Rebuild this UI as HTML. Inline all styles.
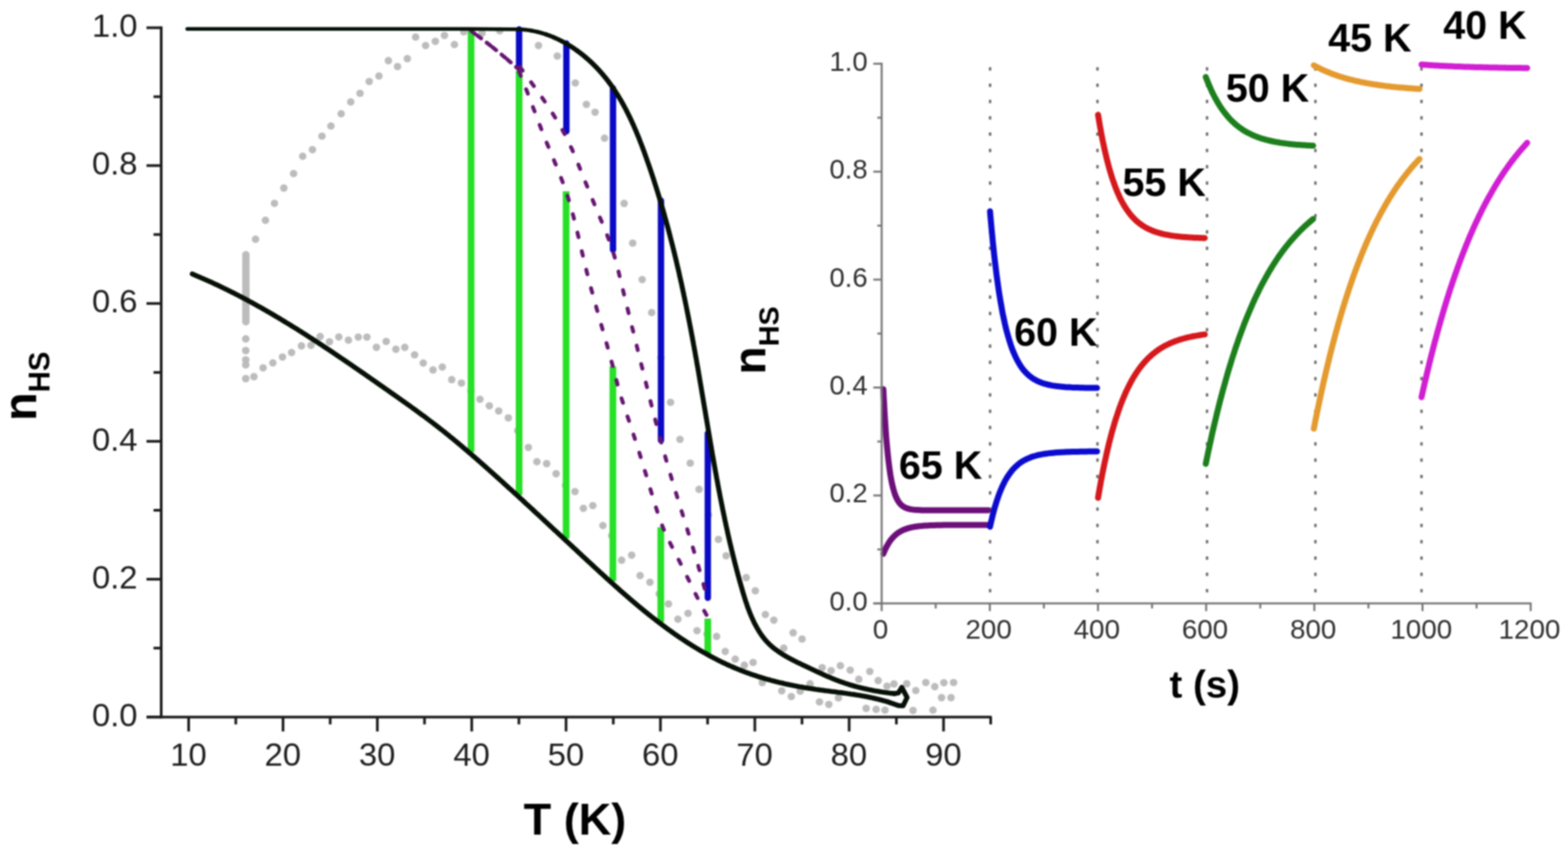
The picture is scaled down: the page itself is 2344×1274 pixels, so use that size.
<!DOCTYPE html><html><head><meta charset="utf-8"><title>n_HS vs T</title>
<style>html,body{margin:0;padding:0;background:#fff;}body{width:2344px;height:1274px;overflow:hidden;}svg{display:block;}#w{filter:blur(0.8px);width:2344px;height:1274px;}text{font-family:"Liberation Sans",Arial,sans-serif;}</style></head><body>
<div id="w"><svg width="2344" height="1274" viewBox="0 0 2344 1274">
<rect width="2344" height="1274" fill="#fff"/>
<g fill="#bcbcbc">
<circle cx="382" cy="357.7" r="5.6"/>
<circle cx="396.8" cy="329.4" r="5.6"/>
<circle cx="410.3" cy="304" r="5.6"/>
<circle cx="424.3" cy="281.2" r="5.6"/>
<circle cx="438.9" cy="259.5" r="5.6"/>
<circle cx="452.5" cy="233.6" r="5.6"/>
<circle cx="467.1" cy="223.8" r="5.6"/>
<circle cx="481.3" cy="203.5" r="5.6"/>
<circle cx="494.7" cy="188.4" r="5.6"/>
<circle cx="510" cy="170.1" r="5.6"/>
<circle cx="524.3" cy="152.4" r="5.6"/>
<circle cx="538.2" cy="139.5" r="5.6"/>
<circle cx="551.9" cy="121.8" r="5.6"/>
<circle cx="566.5" cy="113.6" r="5.6"/>
<circle cx="580.6" cy="90.7" r="5.6"/>
<circle cx="594.3" cy="99.5" r="5.6"/>
<circle cx="608.9" cy="87.7" r="5.6"/>
<circle cx="621.3" cy="55.4" r="5.6"/>
<circle cx="636.2" cy="68.1" r="5.6"/>
<circle cx="650.8" cy="61.8" r="5.6"/>
<circle cx="664.4" cy="53" r="5.6"/>
<circle cx="679.3" cy="66.6" r="5.6"/>
<circle cx="693.3" cy="47.5" r="5.6"/>
<circle cx="720.6" cy="49.6" r="5.6"/>
<circle cx="747" cy="46" r="5.6"/>
<circle cx="805" cy="68" r="5.6"/>
<circle cx="833.1" cy="83.8" r="5.6"/>
<circle cx="860" cy="124" r="5.6"/>
<circle cx="876.6" cy="156" r="5.6"/>
<circle cx="889.6" cy="167.8" r="5.6"/>
<circle cx="903.7" cy="206.6" r="5.6"/>
<circle cx="933" cy="304.2" r="5.6"/>
<circle cx="945.8" cy="363.5" r="5.6"/>
<circle cx="960" cy="418" r="5.6"/>
<circle cx="974.2" cy="467.4" r="5.6"/>
<circle cx="988" cy="535" r="5.6"/>
<circle cx="1002.4" cy="601.5" r="5.6"/>
<circle cx="1016.5" cy="657" r="5.6"/>
<circle cx="1031.8" cy="692.5" r="5.6"/>
<circle cx="1045" cy="731.7" r="5.6"/>
<circle cx="1059" cy="770" r="5.6"/>
<circle cx="1074" cy="806.5" r="5.6"/>
<circle cx="1085.5" cy="831" r="5.6"/>
<circle cx="1115.5" cy="863.7" r="5.6"/>
<circle cx="1129.1" cy="883.4" r="5.6"/>
<circle cx="1144.1" cy="918.9" r="5.6"/>
<circle cx="1156.8" cy="927.3" r="5.6"/>
<circle cx="1185.7" cy="946.2" r="5.6"/>
<circle cx="1199" cy="955.5" r="5.6"/>
<circle cx="1229" cy="998.3" r="5.6"/>
<circle cx="1242.4" cy="1002.8" r="5.6"/>
<circle cx="1256.3" cy="995.4" r="5.6"/>
<circle cx="1271" cy="1002" r="5.6"/>
<circle cx="1300.3" cy="1004" r="5.6"/>
<circle cx="1283.8" cy="1015.7" r="5.6"/>
<circle cx="1312.8" cy="1017.7" r="5.6"/>
<circle cx="1336.4" cy="1022.7" r="5.6"/>
<circle cx="1355.5" cy="1022.3" r="5.6"/>
<circle cx="1369" cy="1032.5" r="5.6"/>
<circle cx="1384" cy="1020.5" r="5.6"/>
<circle cx="1397.4" cy="1026.7" r="5.6"/>
<circle cx="1411" cy="1020.8" r="5.6"/>
<circle cx="1425.5" cy="1020.5" r="5.6"/>
<circle cx="1407.5" cy="1043.2" r="5.6"/>
<circle cx="1421.7" cy="1043.2" r="5.6"/>
<circle cx="379.6" cy="563.2" r="5.6"/>
<circle cx="393.3" cy="550" r="5.6"/>
<circle cx="407.9" cy="542.6" r="5.6"/>
<circle cx="422.3" cy="533.8" r="5.6"/>
<circle cx="435.9" cy="527.1" r="5.6"/>
<circle cx="450.6" cy="517.2" r="5.6"/>
<circle cx="464.9" cy="516.4" r="5.6"/>
<circle cx="478.6" cy="503.2" r="5.6"/>
<circle cx="492.5" cy="511" r="5.6"/>
<circle cx="506.5" cy="503.9" r="5.6"/>
<circle cx="520.9" cy="508.6" r="5.6"/>
<circle cx="535.6" cy="504" r="5.6"/>
<circle cx="548.5" cy="504" r="5.6"/>
<circle cx="562.7" cy="519.3" r="5.6"/>
<circle cx="577.3" cy="510.5" r="5.6"/>
<circle cx="591.8" cy="522.2" r="5.6"/>
<circle cx="605.1" cy="519.4" r="5.6"/>
<circle cx="619.8" cy="530.5" r="5.6"/>
<circle cx="632.7" cy="542.9" r="5.6"/>
<circle cx="647.3" cy="553.2" r="5.6"/>
<circle cx="661.2" cy="548.9" r="5.6"/>
<circle cx="675.3" cy="567.7" r="5.6"/>
<circle cx="689.8" cy="572.8" r="5.6"/>
<circle cx="704" cy="584.5" r="5.6"/>
<circle cx="717.5" cy="597" r="5.6"/>
<circle cx="731.5" cy="606.8" r="5.6"/>
<circle cx="745.5" cy="614.5" r="5.6"/>
<circle cx="759.9" cy="624.8" r="5.6"/>
<circle cx="774" cy="644" r="5.6"/>
<circle cx="789.9" cy="669" r="5.6"/>
<circle cx="802.6" cy="690.4" r="5.6"/>
<circle cx="817.2" cy="693.2" r="5.6"/>
<circle cx="831.3" cy="708.3" r="5.6"/>
<circle cx="845.4" cy="725.6" r="5.6"/>
<circle cx="859.5" cy="735" r="5.6"/>
<circle cx="872.1" cy="760.1" r="5.6"/>
<circle cx="886.2" cy="756" r="5.6"/>
<circle cx="901.3" cy="785.9" r="5.6"/>
<circle cx="914.5" cy="801" r="5.6"/>
<circle cx="929.2" cy="837.7" r="5.6"/>
<circle cx="944.3" cy="830.1" r="5.6"/>
<circle cx="956.9" cy="860.6" r="5.6"/>
<circle cx="971.6" cy="870.6" r="5.6"/>
<circle cx="985.5" cy="888" r="5.6"/>
<circle cx="999.3" cy="903" r="5.6"/>
<circle cx="1013.4" cy="925.9" r="5.6"/>
<circle cx="1028.5" cy="917.1" r="5.6"/>
<circle cx="1042" cy="943" r="5.6"/>
<circle cx="1057" cy="948" r="5.6"/>
<circle cx="1071.2" cy="951.6" r="5.6"/>
<circle cx="1084.1" cy="974.1" r="5.6"/>
<circle cx="1099.1" cy="985.6" r="5.6"/>
<circle cx="1112.7" cy="994.7" r="5.6"/>
<circle cx="1125.8" cy="990.5" r="5.6"/>
<circle cx="1139.5" cy="1020.7" r="5.6"/>
<circle cx="1171.6" cy="969.2" r="5.6"/>
<circle cx="1168.6" cy="1033" r="5.6"/>
<circle cx="1182.9" cy="1041.5" r="5.6"/>
<circle cx="1196.2" cy="1033.5" r="5.6"/>
<circle cx="1211" cy="1022.4" r="5.6"/>
<circle cx="1225" cy="1049.5" r="5.6"/>
<circle cx="1239" cy="1053.3" r="5.6"/>
<circle cx="1253.4" cy="1043.5" r="5.6"/>
<circle cx="1294.8" cy="1059.2" r="5.6"/>
<circle cx="1309.8" cy="1060.7" r="5.6"/>
<circle cx="1323" cy="1061.9" r="5.6"/>
<circle cx="1364.9" cy="1062.3" r="5.6"/>
<circle cx="1394.7" cy="1061.9" r="5.6"/>
<circle cx="1326" cy="1026" r="5.6"/>
<circle cx="367.6" cy="381" r="5.7"/>
<circle cx="367.6" cy="386" r="5.7"/>
<circle cx="367.6" cy="391" r="5.7"/>
<circle cx="367.6" cy="396" r="5.7"/>
<circle cx="367.6" cy="401" r="5.7"/>
<circle cx="367.6" cy="406" r="5.7"/>
<circle cx="367.6" cy="411" r="5.7"/>
<circle cx="367.6" cy="416" r="5.7"/>
<circle cx="367.6" cy="421" r="5.7"/>
<circle cx="367.6" cy="426" r="5.7"/>
<circle cx="367.6" cy="431" r="5.7"/>
<circle cx="367.6" cy="436" r="5.7"/>
<circle cx="367.6" cy="441" r="5.7"/>
<circle cx="367.6" cy="446" r="5.7"/>
<circle cx="367.6" cy="451" r="5.7"/>
<circle cx="367.6" cy="456" r="5.7"/>
<circle cx="367.6" cy="461" r="5.7"/>
<circle cx="367.6" cy="466" r="5.7"/>
<circle cx="367.6" cy="471" r="5.7"/>
<circle cx="367.6" cy="476" r="5.7"/>
<circle cx="367.6" cy="481" r="5.7"/>
<circle cx="367.4" cy="506.8" r="5.7"/>
<circle cx="367.4" cy="524.1" r="5.7"/>
<circle cx="367.4" cy="538.1" r="5.7"/>
<circle cx="367.4" cy="545.5" r="5.7"/>
<circle cx="367.4" cy="566.1" r="5.7"/>
</g>
<g stroke="#27e027" stroke-width="10" fill="none">
<line x1="704.2" y1="46" x2="704.2" y2="676"/>
<line x1="776" y1="106" x2="776" y2="740"/>
<line x1="846.3" y1="286" x2="846.3" y2="805"/>
<line x1="916.2" y1="548" x2="916.2" y2="869"/>
<line x1="987.8" y1="788.5" x2="987.8" y2="930"/>
<line x1="1058.1" y1="925" x2="1058.1" y2="979"/>
</g>
<g stroke="#0909c6" stroke-width="9.5" fill="none" stroke-linecap="round">
<line x1="776" y1="44" x2="776" y2="98.5"/>
<line x1="846.7" y1="65" x2="846.7" y2="196.5"/>
<line x1="916.4" y1="132" x2="916.4" y2="373.5"/>
<line x1="988.1" y1="300" x2="988.1" y2="658.5"/>
<line x1="1058.1" y1="648" x2="1058.1" y2="894"/>
</g>
<g stroke="#641470" stroke-width="5.8" fill="none" stroke-dasharray="7 21.5" stroke-linecap="round">
<path d="M704.8 46.7 L706.1 47.6 L707.3 48.6 L708.6 49.5 L709.8 50.4 L711.1 51.3 L712.3 52.2 L713.6 53.2 L714.8 54.1 L716 55 L717.3 56 L718.5 56.9 L719.8 57.8 L721 58.8 L722.2 59.7 L723.4 60.6 L724.7 61.6 L725.9 62.5 L727.1 63.5 L728.3 64.4 L729.6 65.4 L730.8 66.3 L732 67.3 L733.2 68.2 L734.4 69.2 L735.6 70.2 L736.9 71.1 L738.1 72.1 L739.3 73.1 L740.5 74 L741.7 75 L742.9 76 L744.1 77 L745.3 77.9 L746.5 78.9 L747.7 79.9 L748.9 80.9 L750.1 81.9 L751.2 82.9 L752.4 83.9 L753.6 84.9 L754.8 85.8 L756 86.8 L757.2 87.8 L758.4 88.8 L759.5 89.9 L760.7 90.9 L761.9 91.9 L763.1 92.9 L764.2 93.9 L765.4 94.9 L766.6 95.9 L767.8 96.9 L768.9 98 L770.1 99 L771.3 100 L772.4 101 L773.6 102.1 L774.7 103.1 L775.9 104.1"/>
<path d="M704.8 46.7 L706.1 47.6 L707.3 48.6 L708.6 49.5 L709.8 50.4 L711.1 51.3 L712.3 52.2 L713.6 53.2 L714.8 54.1 L716 55 L717.3 56 L718.5 56.9 L719.8 57.8 L721 58.8 L722.2 59.7 L723.4 60.6 L724.7 61.6 L725.9 62.5 L727.1 63.5 L728.3 64.4 L729.6 65.4 L730.8 66.3 L732 67.3 L733.2 68.2 L734.4 69.2 L735.6 70.2 L736.9 71.1 L738.1 72.1 L739.3 73.1 L740.5 74 L741.7 75 L742.9 76 L744.1 77 L745.3 77.9 L746.5 78.9 L747.7 79.9 L748.9 80.9 L750.1 81.9 L751.2 82.9 L752.4 83.9 L753.6 84.9 L754.8 85.8 L756 86.8 L757.2 87.8 L758.4 88.8 L759.5 89.9 L760.7 90.9 L761.9 91.9 L763.1 92.9 L764.2 93.9 L765.4 94.9 L766.6 95.9 L767.8 96.9 L768.9 98 L770.1 99 L771.3 100 L772.4 101 L773.6 102.1 L774.7 103.1 L775.9 104.1" stroke-dashoffset="-11"/>
<path d="M775.9 107 L776.7 109 L777.5 111 L778.4 113.1 L779.2 115.1 L780 117.1 L780.8 119.1 L781.6 121.1 L782.4 123.1 L783.2 125.1 L784 127.1 L784.8 129.1 L785.6 131.2 L786.4 133.2 L787.2 135.2 L788 137.2 L788.8 139.2 L789.5 141.2 L790.3 143.3 L791.1 145.3 L791.9 147.3 L792.6 149.3 L793.4 151.4 L794.2 153.4 L794.9 155.4 L795.7 157.4 L796.5 159.4 L797.2 161.5 L798 163.5 L798.8 165.5 L799.5 167.5 L800.3 169.6 L801 171.6 L801.8 173.6 L802.6 175.6 L803.3 177.7 L804.1 179.7 L804.9 181.7 L805.6 183.7 L806.4 185.8 L807.2 187.8 L808 189.8 L808.7 191.8 L809.5 193.8 L810.3 195.9 L811.1 197.9 L811.9 199.9 L812.7 201.9 L813.5 203.9 L814.3 205.9 L815.1 207.9 L815.9 209.9 L816.7 212 L817.5 214 L818.3 216 L819.2 218 L820 220 L820.8 222 L821.6 224 L822.5 226 L823.3 228 L824.1 230 L825 232 L825.8 234 L826.6 236 L827.5 238 L828.3 240 L829.1 242 L829.9 244 L830.8 246 L831.6 248 L832.4 250 L833.2 252.1 L834 254.1 L834.8 256.1 L835.6 258.1 L836.4 260.1 L837.2 262.1 L838 264.1 L838.8 266.2 L839.6 268.2 L840.3 270.2 L841.1 272.2 L841.8 274.3 L842.6 276.3 L843.3 278.3 L844 280.4 L844.8 282.4 L845.5 284.4 L846.2 286.5 L846.9 288.5 L847.5 290.6 L848.2 292.6 L848.9 294.7 L849.5 296.8 L850.2 298.8 L850.8 300.9 L851.4 302.9 L852 305 L852.6 307.1 L853.2 309.2 L853.8 311.2 L854.4 313.3 L855 315.4 L855.6 317.5 L856.1 319.6 L856.7 321.7 L857.3 323.8 L857.8 325.9 L858.3 327.9 L858.9 330 L859.4 332.1 L859.9 334.2 L860.5 336.3 L861 338.4 L861.5 340.5 L862 342.6 L862.5 344.8 L863 346.9 L863.5 349 L864 351.1 L864.5 353.2 L865 355.3 L865.5 357.4 L866 359.5 L866.5 361.6 L867 363.7 L867.5 365.8 L868 368 L868.5 370.1 L869 372.2 L869.5 374.3 L869.9 376.4 L870.4 378.5 L870.9 380.6 L871.4 382.7 L871.9 384.8 L872.4 387 L872.9 389.1 L873.4 391.2 L873.9 393.3 L874.4 395.4 L874.9 397.5 L875.5 399.6 L876 401.7 L876.5 403.8 L877 405.9 L877.5 408 L878.1 410.1 L878.6 412.2 L879.2 414.3 L879.7 416.4 L880.2 418.5 L880.8 420.6 L881.3 422.7 L881.9 424.8 L882.4 426.9 L883 429 L883.6 431.1 L884.1 433.2 L884.7 435.2 L885.3 437.3 L885.8 439.4 L886.4 441.5 L887 443.6 L887.6 445.7 L888.1 447.8 L888.7 449.9 L889.3 451.9 L889.9 454 L890.5 456.1 L891.1 458.2 L891.6 460.3 L892.2 462.4 L892.8 464.4 L893.4 466.5 L894 468.6 L894.6 470.7 L895.2 472.8 L895.8 474.9 L896.4 476.9 L897 479 L897.5 481.1 L898.1 483.2 L898.7 485.3 L899.3 487.4 L899.9 489.4 L900.5 491.5 L901.1 493.6 L901.7 495.7 L902.3 497.8 L902.9 499.8 L903.5 501.9 L904.1 504 L904.7 506.1 L905.2 508.2 L905.8 510.3 L906.4 512.3 L907 514.4 L907.6 516.5 L908.2 518.6 L908.7 520.7 L909.3 522.8 L909.9 524.9 L910.5 526.9 L911 529 L911.6 531.1 L912.2 533.2 L912.8 535.3 L913.3 537.4 L913.9 539.5 L914.4 541.6 L915 543.7 L915.5 545.8 L916.1 547.8 L916.6 549.9 L917.2 552 L917.7 554.1 L918.3 556.2 L918.8 558.3 L919.4 560.4 L919.9 562.5 L920.5 564.6 L921 566.7 L921.6 568.8 L922.1 570.9 L922.7 573 L923.2 575.1 L923.8 577.2 L924.4 579.3 L924.9 581.3 L925.5 583.4 L926.1 585.5 L926.7 587.6 L927.3 589.6 L928 591.7 L928.6 593.8 L929.2 595.9 L929.9 597.9 L930.5 600 L931.2 602 L931.9 604.1 L932.5 606.1 L933.2 608.2 L933.9 610.3 L934.6 612.3 L935.3 614.4 L935.9 616.4 L936.6 618.5 L937.3 620.5 L938 622.6 L938.7 624.6 L939.4 626.7 L940.1 628.7 L940.8 630.8 L941.4 632.8 L942.1 634.9 L942.8 636.9 L943.5 639 L944.2 641 L944.8 643.1 L945.5 645.1 L946.2 647.2 L946.9 649.2 L947.5 651.3 L948.2 653.4 L948.9 655.4 L949.5 657.5 L950.2 659.5 L950.9 661.6 L951.5 663.7 L952.2 665.7 L952.9 667.8 L953.5 669.9 L954.2 671.9 L954.8 674 L955.5 676 L956.1 678.1 L956.7 680.2 L957.4 682.3 L958 684.3 L958.7 686.4 L959.3 688.5 L959.9 690.5 L960.6 692.6 L961.2 694.7 L961.8 696.8 L962.5 698.8 L963.1 700.9 L963.7 703 L964.3 705.1 L965 707.1 L965.6 709.2 L966.2 711.3 L966.8 713.4 L967.5 715.4 L968.1 717.5 L968.7 719.6 L969.3 721.7 L969.9 723.7 L970.6 725.8 L971.2 727.9 L971.8 730 L972.4 732 L973.1 734.1 L973.7 736.2 L974.3 738.2 L975 740.3 L975.6 742.4 L976.2 744.4 L976.8 746.5 L977.5 748.6 L978.1 750.6 L978.8 752.7 L979.4 754.8 L980 756.8 L980.7 758.9 L981.3 761 L982 763 L982.6 765.1 L983.3 767.1 L984 769.2 L984.6 771.2 L985.3 773.2 L986 775.3 L986.7 777.3 L987.5 779.3 L988.2 781.4 L989 783.4 L989.7 785.4 L990.5 787.4 L991.3 789.4 L992.2 791.3 L993 793.3 L993.9 795.3 L994.7 797.3 L995.6 799.2 L996.5 801.2 L997.4 803.1 L998.4 805.1 L999.3 807 L1000.2 809 L1001.2 810.9 L1002.1 812.8 L1003.1 814.8 L1004.1 816.7 L1005.1 818.6 L1006.1 820.6 L1007 822.5 L1008 824.4 L1009 826.3 L1010 828.3 L1011 830.2 L1012 832.1 L1013 834.1 L1014 836 L1015 837.9 L1016 839.8 L1016.9 841.8 L1017.9 843.7 L1018.9 845.7 L1019.9 847.6 L1020.8 849.5 L1021.8 851.5 L1022.7 853.4 L1023.7 855.4 L1024.7 857.3 L1025.6 859.2 L1026.6 861.2 L1027.5 863.1 L1028.5 865.1 L1029.4 867 L1030.4 869 L1031.3 870.9 L1032.3 872.9 L1033.2 874.8 L1034.2 876.8 L1035.1 878.7 L1036.1 880.7 L1037 882.6 L1038 884.5 L1038.9 886.5 L1039.9 888.4 L1040.9 890.4 L1041.8 892.3 L1042.8 894.2 L1043.8 896.2 L1044.8 898.1 L1045.7 900 L1046.7 902 L1047.7 903.9 L1048.7 905.8 L1049.7 907.7 L1050.7 909.6 L1051.7 911.5 L1052.7 913.4 L1053.8 915.4 L1054.8 917.2 L1055.9 919.1 L1056.9 921"/>
<path d="M777.2 99.9 L778.4 101.6 L779.6 103.3 L780.9 105 L782.1 106.8 L783.4 108.5 L784.6 110.2 L785.9 111.9 L787.1 113.6 L788.4 115.3 L789.6 117 L790.9 118.8 L792.1 120.5 L793.4 122.2 L794.6 123.9 L795.9 125.7 L797.1 127.4 L798.4 129.1 L799.6 130.8 L800.8 132.6 L802.1 134.3 L803.3 136 L804.5 137.8 L805.8 139.5 L807 141.3 L808.2 143 L809.5 144.8 L810.7 146.5 L811.9 148.3 L813.1 150 L814.3 151.8 L815.5 153.5 L816.7 155.3 L817.9 157.1 L819.1 158.9 L820.2 160.6 L821.4 162.4 L822.6 164.2 L823.7 166 L824.9 167.8 L826 169.6 L827.2 171.4 L828.3 173.2 L829.4 175 L830.6 176.8 L831.7 178.6 L832.8 180.4 L833.9 182.3 L834.9 184.1 L836 185.9 L837.1 187.8 L838.1 189.6 L839.2 191.5 L840.2 193.3 L841.2 195.2 L842.2 197 L843.3 198.9 L844.2 200.8 L845.2 202.7 L846.2 204.6 L847.2 206.4 L848.1 208.3 L849 210.3 L850 212.2 L850.9 214.1 L851.8 216 L852.7 217.9 L853.5 219.9 L854.4 221.8 L855.3 223.7 L856.1 225.7 L857 227.6 L857.8 229.6 L858.7 231.5 L859.5 233.5 L860.3 235.5 L861.1 237.4 L861.9 239.4 L862.7 241.4 L863.5 243.3 L864.3 245.3 L865.1 247.3 L865.9 249.2 L866.7 251.2 L867.5 253.2 L868.3 255.2 L869.1 257.1 L869.9 259.1 L870.6 261.1 L871.4 263.1 L872.2 265.1 L873 267 L873.8 269 L874.6 271 L875.4 273 L876.2 274.9 L877 276.9 L877.8 278.9 L878.6 280.9 L879.4 282.8 L880.2 284.8 L881 286.8 L881.8 288.7 L882.6 290.7 L883.4 292.7 L884.2 294.7 L885 296.6 L885.8 298.6 L886.6 300.6 L887.4 302.5 L888.2 304.5 L889 306.5 L889.9 308.4 L890.7 310.4 L891.5 312.4 L892.3 314.3 L893.1 316.3 L894 318.3 L894.8 320.2 L895.6 322.2 L896.4 324.2 L897.2 326.1 L898.1 328.1 L898.9 330.1 L899.7 332 L900.5 334 L901.3 336 L902.1 337.9 L902.9 339.9 L903.8 341.9 L904.5 343.9 L905.3 345.8 L906.1 347.8 L906.9 349.8 L907.7 351.8 L908.4 353.8 L909.2 355.8 L909.9 357.7 L910.7 359.7 L911.4 361.7 L912.1 363.7 L912.8 365.7 L913.5 367.7 L914.2 369.8 L914.9 371.8 L915.6 373.8 L916.2 375.8 L916.8 377.8 L917.5 379.9 L918.1 381.9 L918.7 383.9 L919.3 386 L919.9 388 L920.4 390 L921 392.1 L921.5 394.1 L922.1 396.2 L922.6 398.2 L923.2 400.3 L923.7 402.4 L924.2 404.4 L924.7 406.5 L925.2 408.6 L925.7 410.6 L926.2 412.7 L926.7 414.7 L927.2 416.8 L927.7 418.9 L928.2 421 L928.7 423 L929.2 425.1 L929.7 427.2 L930.2 429.2 L930.7 431.3 L931.2 433.4 L931.7 435.4 L932.2 437.5 L932.7 439.6 L933.2 441.6 L933.7 443.7 L934.2 445.8 L934.7 447.8 L935.2 449.9 L935.7 452 L936.2 454 L936.7 456.1 L937.3 458.2 L937.8 460.2 L938.3 462.3 L938.8 464.4 L939.3 466.4 L939.8 468.5 L940.3 470.6 L940.8 472.6 L941.3 474.7 L941.9 476.8 L942.4 478.8 L942.9 480.9 L943.4 483 L943.9 485 L944.4 487.1 L944.9 489.2 L945.4 491.2 L946 493.3 L946.5 495.4 L947 497.4 L947.5 499.5 L948 501.6 L948.5 503.6 L949 505.7 L949.6 507.8 L950.1 509.8 L950.6 511.9 L951.1 514 L951.6 516 L952.1 518.1 L952.6 520.1 L953.1 522.2 L953.6 524.3 L954.1 526.3 L954.7 528.4 L955.2 530.5 L955.7 532.5 L956.2 534.6 L956.7 536.7 L957.2 538.7 L957.7 540.8 L958.2 542.9 L958.7 544.9 L959.2 547 L959.7 549.1 L960.3 551.1 L960.8 553.2 L961.3 555.3 L961.8 557.3 L962.3 559.4 L962.8 561.5 L963.3 563.5 L963.8 565.6 L964.3 567.7 L964.9 569.7 L965.4 571.8 L965.9 573.9 L966.4 575.9 L966.9 578 L967.4 580.1 L967.9 582.1 L968.4 584.2 L969 586.2 L969.5 588.3 L970 590.4 L970.5 592.4 L971 594.5 L971.6 596.6 L972.1 598.6 L972.6 600.7 L973.1 602.7 L973.6 604.8 L974.2 606.9 L974.7 608.9 L975.2 611 L975.7 613.1 L976.3 615.1 L976.8 617.2 L977.3 619.2 L977.9 621.3 L978.4 623.3 L978.9 625.4 L979.5 627.5 L980 629.5 L980.5 631.6 L981.1 633.6 L981.6 635.7 L982.2 637.8 L982.7 639.8 L983.2 641.9 L983.8 643.9 L984.3 646 L984.9 648 L985.4 650.1 L986 652.1 L986.5 654.2 L987.1 656.2 L987.7 658.3 L988.2 660.3 L988.8 662.4 L989.3 664.4 L989.9 666.5 L990.5 668.5 L991 670.6 L991.6 672.6 L992.2 674.7 L992.7 676.7 L993.3 678.8 L993.9 680.8 L994.5 682.9 L995 684.9 L995.6 687 L996.2 689 L996.8 691.1 L997.4 693.1 L998 695.1 L998.6 697.2 L999.2 699.2 L999.7 701.3 L1000.3 703.3 L1000.9 705.3 L1001.5 707.4 L1002.2 709.4 L1002.8 711.5 L1003.4 713.5 L1004 715.5 L1004.6 717.6 L1005.2 719.6 L1005.8 721.7 L1006.4 723.7 L1007 725.7 L1007.7 727.8 L1008.3 729.8 L1008.9 731.8 L1009.5 733.9 L1010.1 735.9 L1010.8 737.9 L1011.4 740 L1012 742 L1012.6 744 L1013.3 746.1 L1013.9 748.1 L1014.5 750.1 L1015.2 752.2 L1015.8 754.2 L1016.4 756.2 L1017.1 758.3 L1017.7 760.3 L1018.3 762.3 L1018.9 764.3 L1019.6 766.4 L1020.2 768.4 L1020.8 770.4 L1021.5 772.5 L1022.1 774.5 L1022.7 776.5 L1023.4 778.6 L1024 780.6 L1024.6 782.6 L1025.3 784.7 L1025.9 786.7 L1026.5 788.7 L1027.2 790.8 L1027.8 792.8 L1028.4 794.8 L1029 796.9 L1029.7 798.9 L1030.3 800.9 L1030.9 803 L1031.5 805 L1032.2 807 L1032.8 809.1 L1033.4 811.1 L1034 813.1 L1034.7 815.2 L1035.3 817.2 L1035.9 819.2 L1036.5 821.3 L1037.1 823.3 L1037.7 825.3 L1038.3 827.4 L1039 829.4 L1039.6 831.5 L1040.2 833.5 L1040.8 835.5 L1041.4 837.6 L1042 839.6 L1042.6 841.7 L1043.2 843.7 L1043.8 845.8 L1044.3 847.8 L1044.9 849.8 L1045.5 851.9 L1046.1 853.9 L1046.7 856 L1047.3 858 L1047.8 860.1 L1048.4 862.1 L1049 864.2 L1049.6 866.2 L1050.1 868.3 L1050.7 870.3 L1051.3 872.4 L1051.8 874.4 L1052.4 876.5 L1052.9 878.6 L1053.5 880.6 L1054 882.7 L1054.6 884.7 L1055.1 886.8 L1055.6 888.8 L1056.2 890.9 L1056.7 893 L1057.2 895"/>
</g>
<g stroke="#061006" stroke-width="7.4" fill="none" stroke-linecap="round" stroke-linejoin="round">
<path d="M280 43.2 L500 43.2 L700 43.2 L764.8 43.8 L766.6 43.7 L768.5 43.7 L770.3 43.7 L772.1 43.7 L774 43.7 L775.8 43.8 L777.6 43.9 L779.4 44 L781.2 44.1" stroke-width="5.6"/>
<path d="M781.2 44.1 L783.1 44.3 L784.9 44.5 L786.7 44.7 L788.4 44.9 L790.2 45.1 L792 45.4 L793.8 45.7" stroke-width="5.8"/>
<path d="M793.8 45.7 L795.6 46 L797.3 46.4 L799.1 46.7 L800.9 47.1 L802.6 47.5 L804.4 47.9" stroke-width="6"/>
<path d="M804.4 47.9 L806.1 48.4 L807.8 48.9 L809.6 49.3 L811.3 49.9 L813 50.4 L814.7 50.9 L816.4 51.5" stroke-width="6.2"/>
<path d="M816.4 51.5 L818.1 52.1 L819.8 52.7 L821.5 53.3 L823.2 54 L824.8 54.6 L826.5 55.3 L828.1 56" stroke-width="6.4"/>
<path d="M828.1 56 L829.8 56.7 L831.4 57.5 L833.1 58.2 L834.7 59 L836.3 59.8 L837.9 60.6 L839.5 61.4" stroke-width="6.6"/>
<path d="M839.5 61.4 L841.1 62.2 L842.7 63.1 L844.3 64 L845.8 64.9 L847.4 65.8 L849 66.7 L850.5 67.6 L852 68.6" stroke-width="6.8"/>
<path d="M852 68.6 L853.6 69.5 L855.1 70.5 L856.6 71.5 L858.1 72.5 L859.6 73.5 L861.1 74.6 L862.5 75.6" stroke-width="7"/>
<path d="M862.5 75.6 L864 76.7 L865.5 77.8 L866.9 78.8 L868.3 79.9 L869.8 81.1 L871.2 82.2 L872.6 83.3 L874 84.5 L875.4 85.6" stroke-width="7.2"/>
<path d="M875.4 85.6 L876.7 86.8 L878.1 88 L879.5 89.2 L880.8 90.4 L882.1 91.6 L883.5 92.8 L884.8 94.1 L886.1 95.3 L887.4 96.6 L888.6 97.9 L889.9 99.1 L891.2 100.4 L892.4 101.7 L893.6 103 L894.8 104.3 L896.1 105.7 L897.2 107 L898.4 108.3 L899.6 109.7 L900.8 111 L901.9 112.4 L903.1 113.8 L904.2 115.1 L905.3 116.5 L906.4 117.9 L907.5 119.3 L908.6 120.7 L909.7 122.1 L910.7 123.6 L911.8 125 L912.8 126.4 L913.9 127.9 L914.9 129.3 L915.9 130.8 L916.9 132.3 L917.9 133.7 L918.9 135.2 L919.9 136.7 L920.8 138.2 L921.8 139.7 L922.8 141.2 L923.7 142.7 L924.6 144.2 L925.6 145.7 L926.5 147.3 L927.4 148.8 L928.3 150.3 L929.2 151.9 L930 153.4 L930.9 155 L931.8 156.5 L932.6 158.1 L933.5 159.7 L934.3 161.2 L935.2 162.8 L936 164.4 L936.8 166 L937.6 167.6 L938.4 169.2 L939.2 170.8 L940 172.4 L940.8 174 L941.6 175.6 L942.4 177.3 L943.1 178.9 L943.9 180.5 L944.6 182.1 L945.4 183.8 L946.1 185.4 L946.9 187.1 L947.6 188.7 L948.3 190.4 L949 192 L949.7 193.7 L950.5 195.3 L951.2 197 L951.8 198.7 L952.5 200.3 L953.2 202 L953.9 203.7 L954.6 205.3 L955.3 207 L955.9 208.7 L956.6 210.4 L957.2 212.1 L957.9 213.8 L958.5 215.4 L959.2 217.1 L959.8 218.8 L960.5 220.5 L961.1 222.2 L961.7 223.9 L962.4 225.6 L963 227.3 L963.6 229 L964.2 230.7 L964.8 232.4 L965.4 234.1 L966 235.8 L966.6 237.5 L967.2 239.2 L967.8 240.9 L968.4 242.7 L969 244.4 L969.6 246.1 L970.2 247.8 L970.8 249.5 L971.4 251.2 L972 252.9 L972.5 254.6 L973.1 256.3 L973.7 258 L974.3 259.8 L974.8 261.5 L975.4 263.2 L976 264.9 L976.5 266.6 L977.1 268.3 L977.6 270 L978.2 271.8 L978.7 273.5 L979.3 275.2 L979.8 276.9 L980.4 278.6 L980.9 280.4 L981.5 282.1 L982 283.8 L982.5 285.5 L983.1 287.2 L983.6 289 L984.1 290.7 L984.7 292.4 L985.2 294.1 L985.7 295.9 L986.2 297.6 L986.7 299.3 L987.2 301 L987.8 302.8 L988.3 304.5 L988.8 306.2 L989.3 307.9 L989.8 309.7 L990.3 311.4 L990.8 313.1 L991.3 314.9 L991.8 316.6 L992.3 318.3 L992.8 320 L993.2 321.8 L993.7 323.5 L994.2 325.2 L994.7 327 L995.2 328.7 L995.7 330.4 L996.1 332.2 L996.6 333.9 L997.1 335.6 L997.6 337.4 L998 339.1 L998.5 340.8 L999 342.6 L999.4 344.3 L999.9 346.1 L1000.3 347.8 L1000.8 349.5 L1001.2 351.3 L1001.7 353 L1002.1 354.7 L1002.6 356.5 L1003 358.2 L1003.5 360 L1003.9 361.7 L1004.4 363.5 L1004.8 365.2 L1005.3 366.9 L1005.7 368.7 L1006.1 370.4 L1006.6 372.2 L1007 373.9 L1007.4 375.7 L1007.8 377.4 L1008.3 379.1 L1008.7 380.9 L1009.1 382.6 L1009.5 384.4 L1010 386.1 L1010.4 387.9 L1010.8 389.6 L1011.2 391.4 L1011.6 393.1 L1012 394.9 L1012.4 396.6 L1012.8 398.4 L1013.2 400.1 L1013.7 401.9 L1014.1 403.6 L1014.5 405.4 L1014.9 407.1 L1015.3 408.9 L1015.6 410.6 L1016 412.4 L1016.4 414.1 L1016.8 415.9 L1017.2 417.6 L1017.6 419.4 L1018 421.1 L1018.4 422.9 L1018.8 424.6 L1019.2 426.4 L1019.5 428.2 L1019.9 429.9 L1020.3 431.7 L1020.7 433.4 L1021 435.2 L1021.4 436.9 L1021.8 438.7 L1022.2 440.4 L1022.5 442.2 L1022.9 444 L1023.3 445.7 L1023.6 447.5 L1024 449.2 L1024.4 451 L1024.7 452.8 L1025.1 454.5 L1025.5 456.3 L1025.8 458 L1026.2 459.8 L1026.5 461.6 L1026.9 463.3 L1027.2 465.1 L1027.6 466.8 L1027.9 468.6 L1028.3 470.4 L1028.6 472.1 L1029 473.9 L1029.3 475.6 L1029.7 477.4 L1030 479.2 L1030.4 480.9 L1030.7 482.7 L1031.1 484.5 L1031.4 486.2 L1031.7 488 L1032.1 489.7 L1032.4 491.5 L1032.8 493.3 L1033.1 495 L1033.4 496.8 L1033.8 498.6 L1034.1 500.3 L1034.4 502.1 L1034.8 503.9 L1035.1 505.6 L1035.4 507.4 L1035.7 509.2 L1036.1 510.9 L1036.4 512.7 L1036.7 514.5 L1037 516.2 L1037.4 518 L1037.7 519.8 L1038 521.5 L1038.3 523.3 L1038.7 525.1 L1039 526.8 L1039.3 528.6 L1039.6 530.4 L1039.9 532.2 L1040.2 533.9 L1040.6 535.7 L1040.9 537.5 L1041.2 539.2 L1041.5 541 L1041.8 542.8 L1042.1 544.5 L1042.4 546.3 L1042.8 548.1 L1043.1 549.9 L1043.4 551.6 L1043.7 553.4 L1044 555.2 L1044.3 556.9 L1044.6 558.7 L1044.9 560.5 L1045.2 562.3 L1045.5 564 L1045.8 565.8 L1046.1 567.6 L1046.4 569.3 L1046.7 571.1 L1047 572.9 L1047.3 574.7 L1047.6 576.4 L1047.9 578.2 L1048.2 580 L1048.5 581.7 L1048.8 583.5 L1049.1 585.3 L1049.4 587.1 L1049.7 588.8 L1050 590.6 L1050.3 592.4 L1050.6 594.2 L1050.9 595.9 L1051.2 597.7 L1051.5 599.5 L1051.8 601.3 L1052.1 603 L1052.4 604.8 L1052.7 606.6 L1053 608.3 L1053.3 610.1 L1053.6 611.9 L1053.9 613.7 L1054.2 615.4 L1054.5 617.2 L1054.8 619 L1055.1 620.8 L1055.4 622.5 L1055.7 624.3 L1056 626.1 L1056.3 627.9 L1056.6 629.6 L1056.9 631.4 L1057.2 633.2 L1057.5 635 L1057.8 636.7 L1058.1 638.5 L1058.4 640.3 L1058.7 642.1 L1059 643.8 L1059.3 645.6 L1059.6 647.4 L1059.9 649.1 L1060.2 650.9 L1060.5 652.7 L1060.8 654.5 L1061.1 656.2 L1061.4 658 L1061.7 659.8 L1062 661.6 L1062.3 663.3 L1062.6 665.1 L1062.9 666.9 L1063.2 668.7 L1063.5 670.4 L1063.8 672.2 L1064.1 674 L1064.4 675.7 L1064.7 677.5 L1065 679.3 L1065.3 681.1 L1065.6 682.8 L1066 684.6 L1066.3 686.4 L1066.6 688.1 L1066.9 689.9 L1067.2 691.7 L1067.5 693.5 L1067.8 695.2 L1068.1 697 L1068.5 698.8 L1068.8 700.5 L1069.1 702.3 L1069.4 704.1 L1069.7 705.9 L1070.1 707.6 L1070.4 709.4 L1070.7 711.2 L1071 712.9 L1071.3 714.7 L1071.7 716.5 L1072 718.2 L1072.3 720 L1072.7 721.8 L1073 723.5 L1073.3 725.3 L1073.6 727.1 L1074 728.8 L1074.3 730.6 L1074.6 732.4 L1075 734.1 L1075.3 735.9 L1075.7 737.7 L1076 739.4 L1076.3 741.2 L1076.7 743 L1077 744.7 L1077.4 746.5 L1077.7 748.3 L1078.1 750 L1078.4 751.8 L1078.8 753.6 L1079.1 755.3 L1079.5 757.1 L1079.8 758.9 L1080.2 760.6 L1080.5 762.4 L1080.9 764.1 L1081.3 765.9 L1081.6 767.7 L1082 769.4 L1082.4 771.2 L1082.7 773 L1083.1 774.7 L1083.5 776.5 L1083.8 778.2 L1084.2 780 L1084.6 781.8 L1085 783.5 L1085.3 785.3 L1085.7 787 L1086.1 788.8 L1086.5 790.5 L1086.9 792.3 L1087.3 794.1 L1087.6 795.8 L1088 797.6 L1088.4 799.3 L1088.8 801.1 L1089.2 802.8 L1089.6 804.6 L1090 806.4 L1090.4 808.1 L1090.8 809.9 L1091.2 811.6 L1091.6 813.4 L1092.1 815.1 L1092.5 816.9 L1092.9 818.6 L1093.3 820.4 L1093.7 822.1 L1094.1 823.9 L1094.6 825.6 L1095 827.4 L1095.4 829.1 L1095.9 830.9 L1096.3 832.6 L1096.7 834.4 L1097.2 836.1 L1097.6 837.9 L1098 839.6 L1098.5 841.4 L1098.9 843.1 L1099.4 844.9 L1099.8 846.6 L1100.3 848.3 L1100.7 850.1 L1101.2 851.8 L1101.6 853.6 L1102.1 855.3 L1102.6 857.1 L1103 858.8 L1103.5 860.5 L1104 862.3 L1104.5 864 L1104.9 865.8 L1105.4 867.5 L1105.9 869.2 L1106.4 871 L1106.9 872.7 L1107.4 874.5 L1107.9 876.2 L1108.4 877.9 L1108.9 879.7 L1109.4 881.4 L1109.9 883.1 L1110.4 884.9 L1110.9 886.6 L1111.4 888.3 L1111.9 890.1 L1112.5 891.8 L1113 893.5 L1113.5 895.2 L1114.1 896.9 L1114.6 898.7 L1115.2 900.4 L1115.8 902.1 L1116.4 903.8 L1116.9 905.5 L1117.5 907.2 L1118.1 908.9 L1118.8 910.5 L1119.4 912.2 L1120 913.9 L1120.7 915.6 L1121.3 917.2 L1122 918.9 L1122.7 920.5 L1123.4 922.2 L1124.1 923.8 L1124.9 925.4 L1125.6 927 L1126.4 928.7 L1127.1 930.3 L1127.9 931.9 L1128.7 933.4 L1129.6 935 L1130.4 936.6 L1131.3 938.1 L1132.1 939.7 L1133 941.2 L1134 942.8 L1134.9 944.3 L1135.8 945.8 L1136.8 947.3 L1137.8 948.7 L1138.8 950.2 L1139.9 951.6 L1140.9 953 L1142 954.4 L1143.1 955.8 L1144.3 957.2 L1145.4 958.5 L1146.6 959.8 L1147.8 961.1 L1149.1 962.3 L1150.3 963.6 L1151.6 964.8 L1152.9 965.9 L1154.3 967.1 L1155.6 968.2 L1157 969.4 L1158.4 970.5 L1159.8 971.5 L1161.3 972.6 L1162.7 973.6 L1164.2 974.7 L1165.7 975.7 L1167.2 976.7 L1168.7 977.6 L1170.2 978.6 L1171.7 979.5 L1173.3 980.4 L1174.8 981.4 L1176.4 982.3 L1178 983.1 L1179.6 984 L1181.2 984.9 L1182.8 985.7 L1184.4 986.6 L1186 987.4 L1187.6 988.2 L1189.2 989 L1190.9 989.9 L1192.5 990.7 L1194.1 991.5 L1195.8 992.2 L1197.4 993 L1199.1 993.8 L1200.7 994.6 L1202.4 995.4 L1204 996.1 L1205.7 996.9 L1207.3 997.7 L1209 998.5 L1210.6 999.2 L1212.2 1000 L1213.9 1000.8 L1215.5 1001.5 L1217.1 1002.3 L1218.8 1003.1 L1220.4 1003.8 L1222 1004.6 L1223.7 1005.4 L1225.3 1006.1 L1226.9 1006.9 L1228.6 1007.6 L1230.2 1008.4 L1231.8 1009.1 L1233.4 1009.8 L1235.1 1010.6 L1236.7 1011.3 L1238.4 1012 L1240 1012.7 L1241.6 1013.4 L1243.3 1014.1 L1244.9 1014.8 L1246.6 1015.5 L1248.2 1016.1 L1249.9 1016.8 L1251.6 1017.4 L1253.2 1018.1 L1254.9 1018.7 L1256.6 1019.3 L1258.3 1019.9 L1260 1020.5 L1261.7 1021.1 L1263.4 1021.7 L1265.1 1022.2 L1266.8 1022.8 L1268.5 1023.3 L1270.2 1023.9 L1271.9 1024.4 L1273.6 1024.9 L1275.4 1025.4 L1277.1 1025.9 L1278.8 1026.4 L1280.6 1026.8 L1282.3 1027.3 L1284 1027.7 L1285.8 1028.2 L1287.5 1028.6 L1289.3 1029 L1291 1029.4 L1292.8 1029.9 L1294.5 1030.2 L1296.3 1030.6 L1298.1 1031 L1299.8 1031.4 L1301.6 1031.7 L1303.4 1032.1 L1305.1 1032.4 L1306.9 1032.8 L1308.7 1033.1 L1310.5 1033.4 L1312.2 1033.7 L1314 1034 L1315.8 1034.3 L1317.6 1034.6 L1319.4 1034.9 L1321.2 1035.1 L1322.9 1035.4 L1324.7 1035.6 L1326.5 1035.9 L1328.3 1036.1 L1330.1 1036.4 L1331.9 1036.6 L1333.7 1036.8 L1335.4 1037 L1337.2 1037.2" stroke-width="7.4"/>
<path d="M1337.2 1037.2 L1343 1036.2 L1348 1027.8 L1356 1043 L1350 1055.3 L1343 1055 L1330.1 1050.6"/>
<path d="M1330.1 1050.4 L1327.7 1049.6 L1325.3 1048.9 L1322.9 1048.2 L1320.4 1047.6 L1318 1046.9 L1315.6 1046.3 L1313.2 1045.7 L1310.8 1045.1 L1308.4 1044.5 L1305.9 1044 L1303.5 1043.4 L1301.1 1042.9 L1298.6 1042.4 L1296.2 1041.9 L1293.8 1041.4 L1291.3 1041 L1288.9 1040.5 L1286.4 1040.1 L1284 1039.7 L1281.5 1039.3 L1279.1 1038.9 L1276.6 1038.5 L1274.2 1038.1 L1271.7 1037.8 L1269.2 1037.4 L1266.8 1037.1 L1264.3 1036.7 L1261.9 1036.4 L1259.4 1036 L1256.9 1035.7 L1254.5 1035.4 L1252 1035.1 L1249.5 1034.7 L1247 1034.4 L1244.6 1034.1 L1242.1 1033.8 L1239.6 1033.4 L1237.1 1033.1 L1234.7 1032.8 L1232.2 1032.5 L1229.7 1032.1 L1227.2 1031.8 L1224.8 1031.5 L1222.3 1031.1 L1219.8 1030.8 L1217.3 1030.4 L1214.8 1030 L1212.4 1029.7 L1209.9 1029.3 L1207.4 1028.9 L1204.9 1028.5 L1202.4 1028.1 L1200 1027.6 L1197.5 1027.2 L1195 1026.8 L1192.5 1026.3 L1190.1 1025.8 L1187.6 1025.4 L1185.1 1024.9 L1182.7 1024.4 L1180.2 1023.9 L1177.7 1023.3 L1175.3 1022.8 L1172.8 1022.3 L1170.4 1021.7 L1167.9 1021.1 L1165.5 1020.6 L1163 1020 L1160.6 1019.4 L1158.1 1018.7 L1155.7 1018.1 L1153.3 1017.5 L1150.9 1016.8 L1148.4 1016.1 L1146 1015.5 L1143.6 1014.8 L1141.2 1014.1 L1138.8 1013.3 L1136.4 1012.6 L1134 1011.9 L1131.6 1011.1 L1129.3 1010.3 L1126.9 1009.5 L1124.5 1008.7 L1122.2 1007.9 L1119.8 1007.1 L1117.5 1006.3 L1115.1 1005.4 L1112.8 1004.5 L1110.5 1003.6 L1108.2 1002.7 L1105.9 1001.8 L1103.6 1000.9 L1101.3 999.9 L1099 999 L1096.7 998 L1094.4 997 L1092.2 996 L1089.9 995 L1087.6 994 L1085.4 993 L1083.2 991.9 L1080.9 990.8 L1078.7 989.8 L1076.5 988.7 L1074.3 987.6 L1072.1 986.5 L1069.9 985.3 L1067.7 984.2 L1065.5 983 L1063.3 981.9 L1061.1 980.7 L1058.9 979.5 L1056.8 978.3 L1054.6 977.1 L1052.5 975.9 L1050.3 974.7 L1048.2 973.4 L1046 972.2 L1043.9 970.9 L1041.8 969.6 L1039.7 968.4 L1037.6 967.1 L1035.5 965.8 L1033.4 964.5 L1031.3 963.1 L1029.2 961.8 L1027.1 960.5 L1025 959.1 L1022.9 957.7 L1020.9 956.4 L1018.8 955 L1016.7 953.6 L1014.7 952.2 L1012.6 950.8 L1010.6 949.4 L1008.5 948 L1006.5 946.5 L1004.5 945.1 L1002.4 943.6 L1000.4 942.2 L998.4 940.7 L996.4 939.3 L994.4 937.8 L992.4 936.3 L990.4 934.8 L988.4 933.3 L986.4 931.8 L984.4 930.3 L982.4 928.7 L980.4 927.2 L978.5 925.7 L976.5 924.1 L974.5 922.6 L972.6 921 L970.6 919.5 L968.6 917.9 L966.7 916.3 L964.7 914.8 L962.8 913.2 L960.9 911.6 L958.9 910 L957 908.4 L955.1 906.8 L953.1 905.2 L951.2 903.6 L949.3 901.9 L947.4 900.3 L945.4 898.7 L943.5 897.1 L941.6 895.4 L939.7 893.8 L937.8 892.1 L935.9 890.5 L934 888.8 L932.1 887.2 L930.2 885.5 L928.3 883.9 L926.4 882.2 L924.6 880.5 L922.7 878.8 L920.8 877.2 L918.9 875.5 L917 873.8 L915.2 872.1 L913.3 870.4 L911.4 868.8 L909.6 867.1 L907.7 865.4 L905.8 863.7 L904 862 L902.1 860.3 L900.3 858.6 L898.4 856.9 L896.5 855.2 L894.7 853.5 L892.8 851.8 L891 850.1 L889.1 848.4 L887.3 846.7 L885.5 845 L883.6 843.3 L881.8 841.6 L879.9 839.9 L878.1 838.2 L876.3 836.5 L874.4 834.8 L872.6 833.1 L870.7 831.4 L868.9 829.7 L867.1 827.9 L865.2 826.2 L863.4 824.5 L861.6 822.8 L859.8 821.1 L857.9 819.4 L856.1 817.7 L854.3 816 L852.4 814.3 L850.6 812.6 L848.8 810.9 L847 809.2 L845.1 807.5 L843.3 805.8 L841.5 804.1 L839.7 802.4 L837.9 800.7 L836 799 L834.2 797.3 L832.4 795.6 L830.6 793.9 L828.7 792.3 L826.9 790.6 L825.1 788.9 L823.3 787.2 L821.5 785.5 L819.6 783.8 L817.8 782.1 L816 780.4 L814.2 778.7 L812.4 777 L810.5 775.3 L808.7 773.6 L806.9 771.9 L805.1 770.2 L803.3 768.6 L801.4 766.9 L799.6 765.2 L797.8 763.5 L796 761.8 L794.1 760.1 L792.3 758.4 L790.5 756.7 L788.7 755.1 L786.8 753.4 L785 751.7 L783.2 750 L781.4 748.3 L779.5 746.6 L777.7 745 L775.9 743.3 L774 741.6 L772.2 739.9 L770.4 738.2 L768.5 736.6 L766.7 734.9 L764.9 733.2 L763 731.5 L761.2 729.9 L759.3 728.2 L757.5 726.5 L755.7 724.9 L753.8 723.2 L752 721.5 L750.1 719.8 L748.3 718.2 L746.4 716.5 L744.6 714.8 L742.7 713.2 L740.9 711.5 L739 709.9 L737.2 708.2 L735.3 706.5 L733.5 704.9 L731.6 703.2 L729.7 701.5 L727.9 699.9 L726 698.2 L724.1 696.6 L722.3 694.9 L720.4 693.3 L718.5 691.6 L716.6 690 L714.8 688.3 L712.9 686.7 L711 685 L709.1 683.4 L707.2 681.8 L705.3 680.1 L703.4 678.5 L701.5 676.9 L699.6 675.2 L697.8 673.6 L695.8 672 L693.9 670.4 L692 668.7 L690.1 667.1 L688.2 665.5 L686.3 663.9 L684.4 662.3 L682.5 660.7 L680.5 659.1 L678.6 657.5 L676.7 655.9 L674.7 654.3 L672.8 652.8 L670.9 651.2 L668.9 649.6 L667 648 L665 646.5 L663.1 644.9 L661.1 643.4 L659.1 641.8 L657.2 640.3 L655.2 638.7 L653.2 637.2 L651.3 635.7 L649.3 634.2 L647.3 632.6 L645.3 631.1 L643.3 629.6 L641.3 628.1 L639.3 626.6 L637.4 625.1 L635.4 623.6 L633.3 622.1 L631.3 620.7 L629.3 619.2 L627.3 617.7 L625.3 616.2 L623.3 614.8 L621.3 613.3 L619.3 611.8 L617.2 610.4 L615.2 608.9 L613.2 607.4 L611.2 606 L609.1 604.5 L607.1 603.1 L605.1 601.6 L603 600.2 L601 598.7 L599 597.3 L596.9 595.9 L594.9 594.4 L592.9 593 L590.8 591.5 L588.8 590.1 L586.7 588.7 L584.7 587.2 L582.6 585.8 L580.6 584.4 L578.6 582.9 L576.5 581.5 L574.5 580.1 L572.4 578.6 L570.4 577.2 L568.3 575.8 L566.3 574.3 L564.2 572.9 L562.2 571.5 L560.2 570 L558.1 568.6 L556.1 567.2 L554 565.7 L552 564.3 L549.9 562.9 L547.9 561.5 L545.8 560 L543.8 558.6 L541.7 557.2 L539.6 555.8 L537.6 554.3 L535.5 552.9 L533.5 551.5 L531.4 550.1 L529.4 548.7 L527.3 547.3 L525.2 545.8 L523.2 544.4 L521.1 543 L519.1 541.6 L517 540.2 L514.9 538.8 L512.9 537.4 L510.8 536 L508.7 534.6 L506.7 533.2 L504.6 531.8 L502.5 530.4 L500.5 529 L498.4 527.6 L496.3 526.2 L494.2 524.8 L492.2 523.4 L490.1 522.1 L488 520.7 L485.9 519.3 L483.8 517.9 L481.7 516.5 L479.7 515.2 L477.6 513.8 L475.5 512.4 L473.4 511.1 L471.3 509.7 L469.2 508.3 L467.1 507 L465 505.6 L462.9 504.3 L460.8 502.9 L458.7 501.6 L456.6 500.2 L454.5 498.9 L452.4 497.6 L450.3 496.2 L448.2 494.9 L446.1 493.6 L444 492.2 L441.9 490.9 L439.7 489.6 L437.6 488.3 L435.5 487 L433.4 485.7 L431.3 484.4 L429.1 483.1 L427 481.8 L424.9 480.5 L422.7 479.2 L420.6 477.9 L418.5 476.6 L416.3 475.3 L414.2 474.1 L412 472.8 L409.9 471.5 L407.8 470.3 L405.6 469 L403.5 467.7 L401.3 466.5 L399.1 465.2 L397 464 L394.8 462.8 L392.6 461.5 L390.5 460.3 L388.3 459.1 L386.1 457.9 L384 456.7 L381.8 455.4 L379.6 454.2 L377.4 453 L375.2 451.8 L373 450.7 L370.8 449.5 L368.7 448.3 L366.5 447.1 L364.3 445.9 L362 444.8 L359.8 443.6 L357.6 442.5 L355.4 441.3 L353.2 440.2 L351 439 L348.8 437.9 L346.5 436.8 L344.3 435.7 L342.1 434.6 L339.8 433.5 L337.6 432.3 L335.3 431.3 L333.1 430.2 L330.8 429.1 L328.6 428 L326.3 426.9 L324.1 425.9 L321.8 424.8 L319.5 423.8 L317.3 422.7 L315 421.7 L312.7 420.6 L310.4 419.6 L308.1 418.6 L305.8 417.6 L303.5 416.6 L301.2 415.6 L298.9 414.6 L296.6 413.6 L294.3 412.6 L292 411.7 L289.7 410.7 L287.4 409.7"/>
</g>
<g stroke="#1c1c1c" stroke-width="4" fill="none" stroke-linecap="butt">
<line x1="241" y1="39.5" x2="241" y2="1074.2"/>
<line x1="219" y1="1072.2" x2="1482.5" y2="1072.2"/>
<line x1="219" y1="1072.2" x2="241" y2="1072.2"/>
<line x1="229.5" y1="969.1" x2="241" y2="969.1"/>
<line x1="219" y1="866.1" x2="241" y2="866.1"/>
<line x1="229.5" y1="763" x2="241" y2="763"/>
<line x1="219" y1="659.9" x2="241" y2="659.9"/>
<line x1="229.5" y1="556.9" x2="241" y2="556.9"/>
<line x1="219" y1="453.8" x2="241" y2="453.8"/>
<line x1="229.5" y1="350.7" x2="241" y2="350.7"/>
<line x1="219" y1="247.6" x2="241" y2="247.6"/>
<line x1="229.5" y1="144.6" x2="241" y2="144.6"/>
<line x1="219" y1="41.5" x2="241" y2="41.5"/>
<line x1="282" y1="1072.2" x2="282" y2="1093.7"/>
<line x1="352.5" y1="1072.2" x2="352.5" y2="1083.2"/>
<line x1="423.1" y1="1072.2" x2="423.1" y2="1093.7"/>
<line x1="493.6" y1="1072.2" x2="493.6" y2="1083.2"/>
<line x1="564.1" y1="1072.2" x2="564.1" y2="1093.7"/>
<line x1="634.6" y1="1072.2" x2="634.6" y2="1083.2"/>
<line x1="705.2" y1="1072.2" x2="705.2" y2="1093.7"/>
<line x1="775.7" y1="1072.2" x2="775.7" y2="1083.2"/>
<line x1="846.2" y1="1072.2" x2="846.2" y2="1093.7"/>
<line x1="916.8" y1="1072.2" x2="916.8" y2="1083.2"/>
<line x1="987.3" y1="1072.2" x2="987.3" y2="1093.7"/>
<line x1="1057.8" y1="1072.2" x2="1057.8" y2="1083.2"/>
<line x1="1128.4" y1="1072.2" x2="1128.4" y2="1093.7"/>
<line x1="1198.9" y1="1072.2" x2="1198.9" y2="1083.2"/>
<line x1="1269.4" y1="1072.2" x2="1269.4" y2="1093.7"/>
<line x1="1340" y1="1072.2" x2="1340" y2="1083.2"/>
<line x1="1410.5" y1="1072.2" x2="1410.5" y2="1093.7"/>
<line x1="1481" y1="1072.2" x2="1481" y2="1083.2"/>
</g>
<g fill="#1e1e1e" font-size="49" text-anchor="end">
<text x="205.6" y="1085.8">0.0</text>
<text x="205.6" y="879.7">0.2</text>
<text x="205.6" y="673.5">0.4</text>
<text x="205.6" y="467.4">0.6</text>
<text x="205.6" y="261.2">0.8</text>
<text x="205.6" y="55.1">1.0</text>
</g>
<g fill="#1e1e1e" font-size="49" text-anchor="middle">
<text x="281.7" y="1144.5">10</text>
<text x="422.8" y="1144.5">20</text>
<text x="563.8" y="1144.5">30</text>
<text x="704.9" y="1144.5">40</text>
<text x="845.9" y="1144.5">50</text>
<text x="987" y="1144.5">60</text>
<text x="1128.1" y="1144.5">70</text>
<text x="1269.1" y="1144.5">80</text>
<text x="1410.2" y="1144.5">90</text>
</g>
<text x="859.5" y="1248" font-size="67.5" font-weight="bold" text-anchor="middle" fill="#000">T (K)</text>
<text transform="translate(54 629.5) rotate(-90)" font-size="70" font-weight="bold" fill="#000">n<tspan font-size="44" dy="20">HS</tspan></text>
<g stroke="#6c6c6c" stroke-width="3.6" stroke-dasharray="5 19.38" fill="none">
<line x1="1480.1" y1="100.5" x2="1480.1" y2="901"/>
<line x1="1640.6" y1="100.5" x2="1640.6" y2="901"/>
<line x1="1804.4" y1="100.5" x2="1804.4" y2="901"/>
<line x1="1966.4" y1="100.5" x2="1966.4" y2="901"/>
<line x1="2125" y1="100.5" x2="2125" y2="901"/>
</g>
<g fill="none" stroke-width="9" stroke-linecap="round" stroke-linejoin="round">
<path stroke="#6c0f79" d="M1320.5 581.9 L1320.7 585.7 L1321 592.5 L1321.5 600.9 L1322 610.3 L1322.5 620.3 L1323.2 630.6 L1323.9 641 L1324.6 651.2 L1325.4 661.1 L1326.3 670.7 L1327.2 679.8 L1328.1 688.3 L1329.1 696.3 L1330.1 703.7 L1331.1 710.5 L1332.2 716.7 L1333.3 722.4 L1334.5 727.5 L1335.7 732 L1336.9 736.1 L1338.1 739.8 L1339.4 743 L1340.7 745.8 L1342.1 748.3 L1343.4 750.4 L1344.8 752.3 L1346.2 754 L1347.7 755.4 L1349.1 756.6 L1350.6 757.6 L1352.1 758.5 L1353.7 759.3 L1355.2 759.9 L1356.8 760.4 L1358.5 760.9 L1360.1 761.3 L1361.8 761.6 L1363.4 761.9 L1365.1 762.1 L1366.9 762.3 L1368.6 762.4 L1370.4 762.5 L1372.2 762.6 L1374 762.7 L1375.8 762.8 L1377.7 762.9 L1379.6 762.9 L1381.5 762.9 L1383.4 763 L1385.3 763 L1387.3 763 L1389.2 763 L1391.2 763 L1393.2 763.1 L1395.3 763.1 L1397.3 763.1 L1399.4 763.1 L1401.5 763.1 L1403.6 763.1 L1405.7 763.1 L1407.8 763.1 L1410 763.1 L1412.2 763.1 L1414.3 763.1 L1416.6 763.1 L1418.8 763.1 L1421 763.1 L1423.3 763.1 L1425.6 763.1 L1427.8 763.1 L1430.2 763.1 L1432.5 763.1 L1434.8 763.1 L1437.2 763.1 L1439.6 763.1 L1441.9 763.1 L1444.3 763.1 L1446.8 763.1 L1449.2 763.1 L1451.7 763.1 L1454.1 763.1 L1456.6 763.1 L1459.1 763.1 L1461.6 763.1 L1464.1 763.1 L1466.7 763.1 L1469.2 763.1 L1471.8 763.1 L1474.4 763.1 L1477 763.1"/>
<path stroke="#6c0f79" d="M1320.5 828.1 L1320.7 827.6 L1321 826.8 L1321.5 825.7 L1322 824.5 L1322.5 823.2 L1323.2 821.8 L1323.9 820.3 L1324.6 818.8 L1325.4 817.3 L1326.3 815.7 L1327.2 814.2 L1328.1 812.6 L1329.1 811.1 L1330.1 809.6 L1331.1 808.1 L1332.2 806.7 L1333.3 805.4 L1334.5 804 L1335.7 802.8 L1336.9 801.5 L1338.1 800.4 L1339.4 799.3 L1340.7 798.2 L1342.1 797.2 L1343.4 796.3 L1344.8 795.4 L1346.2 794.6 L1347.7 793.8 L1349.1 793.1 L1350.6 792.4 L1352.1 791.8 L1353.7 791.2 L1355.2 790.6 L1356.8 790.1 L1358.5 789.6 L1360.1 789.2 L1361.8 788.8 L1363.4 788.4 L1365.1 788.1 L1366.9 787.8 L1368.6 787.5 L1370.4 787.3 L1372.2 787 L1374 786.8 L1375.8 786.6 L1377.7 786.4 L1379.6 786.3 L1381.5 786.1 L1383.4 786 L1385.3 785.9 L1387.3 785.8 L1389.2 785.7 L1391.2 785.6 L1393.2 785.5 L1395.3 785.4 L1397.3 785.4 L1399.4 785.3 L1401.5 785.3 L1403.6 785.2 L1405.7 785.2 L1407.8 785.2 L1410 785.1 L1412.2 785.1 L1414.3 785.1 L1416.6 785 L1418.8 785 L1421 785 L1423.3 785 L1425.6 785 L1427.8 785 L1430.2 785 L1432.5 784.9 L1434.8 784.9 L1437.2 784.9 L1439.6 784.9 L1441.9 784.9 L1444.3 784.9 L1446.8 784.9 L1449.2 784.9 L1451.7 784.9 L1454.1 784.9 L1456.6 784.9 L1459.1 784.9 L1461.6 784.9 L1464.1 784.9 L1466.7 784.9 L1469.2 784.9 L1471.8 784.9 L1474.4 784.9 L1477 784.9"/>
<path stroke="#0b0bd0" d="M1480 316 L1480.2 318.3 L1480.5 322.3 L1481 327.5 L1481.5 333.4 L1482.1 340 L1482.8 347.1 L1483.5 354.6 L1484.2 362.3 L1485.1 370.3 L1485.9 378.4 L1486.8 386.6 L1487.8 394.8 L1488.8 403 L1489.8 411.1 L1490.9 419.2 L1492 427.1 L1493.1 434.8 L1494.3 442.4 L1495.5 449.8 L1496.8 456.9 L1498 463.9 L1499.3 470.6 L1500.7 477 L1502 483.2 L1503.4 489.2 L1504.8 494.9 L1506.3 500.3 L1507.8 505.5 L1509.3 510.4 L1510.8 515.1 L1512.3 519.6 L1513.9 523.8 L1515.5 527.7 L1517.2 531.5 L1518.8 535 L1520.5 538.3 L1522.2 541.4 L1523.9 544.4 L1525.6 547.1 L1527.4 549.7 L1529.2 552.1 L1531 554.3 L1532.8 556.4 L1534.7 558.3 L1536.6 560.1 L1538.5 561.8 L1540.4 563.3 L1542.3 564.8 L1544.3 566.1 L1546.3 567.3 L1548.3 568.4 L1550.3 569.5 L1552.3 570.4 L1554.4 571.3 L1556.4 572.1 L1558.5 572.9 L1560.6 573.5 L1562.8 574.2 L1564.9 574.7 L1567.1 575.3 L1569.3 575.7 L1571.5 576.2 L1573.7 576.6 L1575.9 576.9 L1578.2 577.3 L1580.5 577.6 L1582.8 577.8 L1585.1 578.1 L1587.4 578.3 L1589.7 578.5 L1592.1 578.7 L1594.5 578.9 L1596.9 579 L1599.3 579.1 L1601.7 579.3 L1604.2 579.4 L1606.6 579.5 L1609.1 579.6 L1611.6 579.6 L1614.1 579.7 L1616.6 579.8 L1619.1 579.8 L1621.7 579.9 L1624.3 579.9 L1626.9 580 L1629.5 580 L1632.1 580 L1634.7 580.1 L1637.3 580.1 L1640 580.1"/>
<path stroke="#0b0bd0" d="M1480 787.7 L1480.2 786.8 L1480.5 785.2 L1481 783.2 L1481.5 780.9 L1482.1 778.3 L1482.8 775.5 L1483.5 772.5 L1484.2 769.4 L1485.1 766.3 L1485.9 763 L1486.8 759.7 L1487.8 756.4 L1488.8 753.1 L1489.8 749.8 L1490.9 746.6 L1492 743.3 L1493.1 740.2 L1494.3 737 L1495.5 734 L1496.8 731 L1498 728.1 L1499.3 725.3 L1500.7 722.6 L1502 719.9 L1503.4 717.4 L1504.8 715 L1506.3 712.6 L1507.8 710.4 L1509.3 708.2 L1510.8 706.2 L1512.3 704.2 L1513.9 702.3 L1515.5 700.6 L1517.2 698.9 L1518.8 697.3 L1520.5 695.8 L1522.2 694.3 L1523.9 693 L1525.6 691.7 L1527.4 690.5 L1529.2 689.4 L1531 688.4 L1532.8 687.4 L1534.7 686.4 L1536.6 685.6 L1538.5 684.8 L1540.4 684 L1542.3 683.3 L1544.3 682.6 L1546.3 682 L1548.3 681.5 L1550.3 680.9 L1552.3 680.4 L1554.4 680 L1556.4 679.6 L1558.5 679.2 L1560.6 678.8 L1562.8 678.5 L1564.9 678.2 L1567.1 677.9 L1569.3 677.6 L1571.5 677.4 L1573.7 677.2 L1575.9 677 L1578.2 676.8 L1580.5 676.6 L1582.8 676.4 L1585.1 676.3 L1587.4 676.2 L1589.7 676.1 L1592.1 675.9 L1594.5 675.8 L1596.9 675.8 L1599.3 675.7 L1601.7 675.6 L1604.2 675.5 L1606.6 675.5 L1609.1 675.4 L1611.6 675.4 L1614.1 675.3 L1616.6 675.3 L1619.1 675.2 L1621.7 675.2 L1624.3 675.2 L1626.9 675.1 L1629.5 675.1 L1632.1 675.1 L1634.7 675.1 L1637.3 675 L1640 675"/>
<path stroke="#d5181c" d="M1641.5 171.6 L1641.7 172.7 L1642 174.8 L1642.5 177.6 L1643 180.7 L1643.6 184.2 L1644.2 188 L1645 192.1 L1645.7 196.3 L1646.5 200.7 L1647.4 205.2 L1648.3 209.8 L1649.3 214.4 L1650.3 219.1 L1651.3 223.8 L1652.4 228.6 L1653.5 233.3 L1654.6 237.9 L1655.8 242.6 L1657 247.1 L1658.2 251.6 L1659.5 256.1 L1660.8 260.4 L1662.1 264.6 L1663.5 268.8 L1664.9 272.8 L1666.3 276.8 L1667.7 280.6 L1669.2 284.3 L1670.7 287.9 L1672.2 291.3 L1673.7 294.7 L1675.3 297.9 L1676.9 301 L1678.5 304 L1680.2 306.8 L1681.9 309.6 L1683.5 312.2 L1685.3 314.7 L1687 317.1 L1688.8 319.4 L1690.5 321.6 L1692.3 323.7 L1694.2 325.7 L1696 327.6 L1697.9 329.4 L1699.8 331.1 L1701.7 332.7 L1703.6 334.2 L1705.6 335.7 L1707.5 337 L1709.5 338.3 L1711.5 339.5 L1713.6 340.7 L1715.6 341.7 L1717.7 342.8 L1719.8 343.7 L1721.9 344.6 L1724 345.5 L1726.2 346.3 L1728.3 347 L1730.5 347.7 L1732.7 348.3 L1734.9 349 L1737.1 349.5 L1739.4 350.1 L1741.7 350.6 L1743.9 351 L1746.3 351.4 L1748.6 351.9 L1750.9 352.2 L1753.3 352.6 L1755.6 352.9 L1758 353.2 L1760.4 353.5 L1762.8 353.7 L1765.3 354 L1767.7 354.2 L1770.2 354.4 L1772.7 354.6 L1775.2 354.8 L1777.7 354.9 L1780.2 355.1 L1782.8 355.2 L1785.3 355.4 L1787.9 355.5 L1790.5 355.6 L1793.1 355.7 L1795.7 355.8 L1798.3 355.9 L1801 355.9"/>
<path stroke="#d5181c" d="M1641.5 744.4 L1641.7 743.2 L1642 741.2 L1642.5 738.6 L1643 735.5 L1643.6 732.1 L1644.2 728.4 L1645 724.4 L1645.7 720.2 L1646.5 715.8 L1647.4 711.2 L1648.3 706.5 L1649.3 701.7 L1650.3 696.9 L1651.3 691.9 L1652.4 686.9 L1653.5 681.9 L1654.6 676.8 L1655.8 671.7 L1657 666.6 L1658.2 661.6 L1659.5 656.6 L1660.8 651.6 L1662.1 646.6 L1663.5 641.7 L1664.9 636.9 L1666.3 632.1 L1667.7 627.4 L1669.2 622.8 L1670.7 618.3 L1672.2 613.8 L1673.7 609.5 L1675.3 605.2 L1676.9 601 L1678.5 597 L1680.2 593 L1681.9 589.1 L1683.5 585.3 L1685.3 581.7 L1687 578.1 L1688.8 574.6 L1690.5 571.3 L1692.3 568 L1694.2 564.8 L1696 561.8 L1697.9 558.8 L1699.8 556 L1701.7 553.2 L1703.6 550.6 L1705.6 548 L1707.5 545.5 L1709.5 543.2 L1711.5 540.9 L1713.6 538.7 L1715.6 536.5 L1717.7 534.5 L1719.8 532.6 L1721.9 530.7 L1724 528.9 L1726.2 527.2 L1728.3 525.5 L1730.5 524 L1732.7 522.4 L1734.9 521 L1737.1 519.6 L1739.4 518.3 L1741.7 517.1 L1743.9 515.9 L1746.3 514.7 L1748.6 513.6 L1750.9 512.6 L1753.3 511.6 L1755.6 510.7 L1758 509.8 L1760.4 509 L1762.8 508.1 L1765.3 507.4 L1767.7 506.7 L1770.2 506 L1772.7 505.3 L1775.2 504.7 L1777.7 504.1 L1780.2 503.6 L1782.8 503 L1785.3 502.5 L1787.9 502.1 L1790.5 501.6 L1793.1 501.2 L1795.7 500.8 L1798.3 500.4 L1801 500.1"/>
<path stroke="#1c7f1c" d="M1802.5 115.1 L1802.7 115.6 L1803 116.5 L1803.5 117.6 L1804 119 L1804.6 120.5 L1805.3 122.2 L1806 123.9 L1806.8 125.8 L1807.6 127.7 L1808.4 129.7 L1809.4 131.8 L1810.3 133.9 L1811.3 136.1 L1812.3 138.2 L1813.4 140.4 L1814.5 142.6 L1815.7 144.8 L1816.9 147 L1818.1 149.2 L1819.3 151.4 L1820.6 153.6 L1821.9 155.8 L1823.2 157.9 L1824.6 160 L1826 162.1 L1827.4 164.1 L1828.9 166.1 L1830.4 168.1 L1831.9 170 L1833.4 171.9 L1834.9 173.8 L1836.5 175.6 L1838.1 177.4 L1839.8 179.1 L1841.4 180.7 L1843.1 182.4 L1844.8 183.9 L1846.5 185.5 L1848.3 187 L1850.1 188.4 L1851.8 189.8 L1853.7 191.1 L1855.5 192.4 L1857.4 193.7 L1859.2 194.9 L1861.1 196.1 L1863.1 197.2 L1865 198.3 L1867 199.3 L1869 200.3 L1871 201.3 L1873 202.2 L1875 203.1 L1877.1 203.9 L1879.2 204.7 L1881.3 205.5 L1883.4 206.2 L1885.5 206.9 L1887.7 207.6 L1889.9 208.2 L1892.1 208.9 L1894.3 209.4 L1896.5 210 L1898.7 210.5 L1901 211 L1903.3 211.5 L1905.6 212 L1907.9 212.4 L1910.2 212.8 L1912.6 213.2 L1915 213.6 L1917.3 213.9 L1919.7 214.3 L1922.2 214.6 L1924.6 214.9 L1927 215.2 L1929.5 215.4 L1932 215.7 L1934.5 215.9 L1937 216.2 L1939.5 216.4 L1942.1 216.6 L1944.6 216.8 L1947.2 216.9 L1949.8 217.1 L1952.4 217.3 L1955 217.4 L1957.7 217.6 L1960.3 217.7 L1963 217.8"/>
<path stroke="#1c7f1c" d="M1802.5 693.6 L1802.7 692.7 L1803 691 L1803.5 688.8 L1804 686.2 L1804.6 683.3 L1805.3 680.1 L1806 676.7 L1806.8 673.1 L1807.6 669.2 L1808.4 665.2 L1809.4 661 L1810.3 656.6 L1811.3 652.1 L1812.3 647.5 L1813.4 642.8 L1814.5 637.9 L1815.7 633 L1816.9 628 L1818.1 623 L1819.3 617.8 L1820.6 612.7 L1821.9 607.4 L1823.2 602.1 L1824.6 596.8 L1826 591.5 L1827.4 586.1 L1828.9 580.8 L1830.4 575.4 L1831.9 570 L1833.4 564.6 L1834.9 559.2 L1836.5 553.9 L1838.1 548.5 L1839.8 543.1 L1841.4 537.8 L1843.1 532.5 L1844.8 527.3 L1846.5 522 L1848.3 516.8 L1850.1 511.6 L1851.8 506.5 L1853.7 501.4 L1855.5 496.4 L1857.4 491.4 L1859.2 486.4 L1861.1 481.5 L1863.1 476.7 L1865 471.9 L1867 467.2 L1869 462.5 L1871 457.9 L1873 453.3 L1875 448.8 L1877.1 444.4 L1879.2 440 L1881.3 435.7 L1883.4 431.4 L1885.5 427.3 L1887.7 423.1 L1889.9 419.1 L1892.1 415.1 L1894.3 411.2 L1896.5 407.3 L1898.7 403.6 L1901 399.8 L1903.3 396.2 L1905.6 392.6 L1907.9 389.1 L1910.2 385.6 L1912.6 382.2 L1915 378.9 L1917.3 375.7 L1919.7 372.5 L1922.2 369.3 L1924.6 366.3 L1927 363.3 L1929.5 360.3 L1932 357.5 L1934.5 354.7 L1937 351.9 L1939.5 349.2 L1942.1 346.6 L1944.6 344 L1947.2 341.5 L1949.8 339 L1952.4 336.6 L1955 334.3 L1957.7 332 L1960.3 329.8 L1963 327.6"/>
<path stroke="#e49a2e" d="M1964 97.7 L1964.2 97.8 L1964.5 98 L1965 98.3 L1965.5 98.5 L1966.1 98.9 L1966.7 99.2 L1967.4 99.6 L1968.2 100 L1969 100.4 L1969.9 100.8 L1970.8 101.3 L1971.7 101.8 L1972.7 102.3 L1973.7 102.8 L1974.8 103.3 L1975.8 103.8 L1977 104.3 L1978.1 104.8 L1979.3 105.4 L1980.6 105.9 L1981.8 106.5 L1983.1 107 L1984.4 107.6 L1985.8 108.1 L1987.1 108.7 L1988.5 109.3 L1990 109.8 L1991.4 110.4 L1992.9 110.9 L1994.4 111.5 L1995.9 112 L1997.5 112.6 L1999.1 113.1 L2000.7 113.7 L2002.3 114.2 L2004 114.7 L2005.6 115.3 L2007.3 115.8 L2009.1 116.3 L2010.8 116.8 L2012.6 117.3 L2014.4 117.8 L2016.2 118.3 L2018 118.8 L2019.9 119.2 L2021.7 119.7 L2023.6 120.2 L2025.5 120.6 L2027.5 121.1 L2029.4 121.5 L2031.4 121.9 L2033.4 122.4 L2035.4 122.8 L2037.4 123.2 L2039.5 123.6 L2041.5 124 L2043.6 124.4 L2045.7 124.7 L2047.9 125.1 L2050 125.5 L2052.2 125.8 L2054.3 126.2 L2056.5 126.5 L2058.7 126.8 L2061 127.2 L2063.2 127.5 L2065.5 127.8 L2067.8 128.1 L2070.1 128.4 L2072.4 128.7 L2074.7 128.9 L2077.1 129.2 L2079.4 129.5 L2081.8 129.7 L2084.2 130 L2086.6 130.2 L2089 130.5 L2091.5 130.7 L2093.9 130.9 L2096.4 131.1 L2098.9 131.3 L2101.4 131.5 L2103.9 131.7 L2106.5 131.9 L2109 132.1 L2111.6 132.3 L2114.2 132.5 L2116.8 132.7 L2119.4 132.8 L2122 133"/>
<path stroke="#e49a2e" d="M1964 641.1 L1964.2 640.1 L1964.5 638.4 L1965 636.2 L1965.5 633.6 L1966.1 630.6 L1966.7 627.3 L1967.4 623.8 L1968.2 620.1 L1969 616.1 L1969.9 612 L1970.8 607.7 L1971.7 603.2 L1972.7 598.6 L1973.7 593.8 L1974.8 588.9 L1975.8 584 L1977 578.9 L1978.1 573.7 L1979.3 568.4 L1980.6 563.1 L1981.8 557.7 L1983.1 552.2 L1984.4 546.7 L1985.8 541.1 L1987.1 535.5 L1988.5 529.9 L1990 524.2 L1991.4 518.5 L1992.9 512.8 L1994.4 507.1 L1995.9 501.4 L1997.5 495.7 L1999.1 490 L2000.7 484.2 L2002.3 478.5 L2004 472.8 L2005.6 467.2 L2007.3 461.5 L2009.1 455.9 L2010.8 450.3 L2012.6 444.7 L2014.4 439.1 L2016.2 433.6 L2018 428.1 L2019.9 422.7 L2021.7 417.3 L2023.6 412 L2025.5 406.7 L2027.5 401.4 L2029.4 396.2 L2031.4 391.1 L2033.4 386 L2035.4 380.9 L2037.4 375.9 L2039.5 371 L2041.5 366.1 L2043.6 361.3 L2045.7 356.5 L2047.9 351.8 L2050 347.2 L2052.2 342.6 L2054.3 338.1 L2056.5 333.7 L2058.7 329.3 L2061 325 L2063.2 320.7 L2065.5 316.5 L2067.8 312.4 L2070.1 308.3 L2072.4 304.3 L2074.7 300.4 L2077.1 296.5 L2079.4 292.7 L2081.8 289 L2084.2 285.3 L2086.6 281.7 L2089 278.1 L2091.5 274.7 L2093.9 271.2 L2096.4 267.9 L2098.9 264.6 L2101.4 261.4 L2103.9 258.2 L2106.5 255.1 L2109 252 L2111.6 249 L2114.2 246.1 L2116.8 243.3 L2119.4 240.4 L2122 237.7"/>
<path stroke="#d11ed3" d="M2125 96.5 L2125.2 96.5 L2125.5 96.6 L2126 96.6 L2126.5 96.6 L2127.1 96.7 L2127.7 96.7 L2128.4 96.8 L2129.2 96.8 L2130 96.9 L2130.9 96.9 L2131.8 97 L2132.7 97.1 L2133.7 97.1 L2134.7 97.2 L2135.8 97.3 L2136.8 97.4 L2138 97.4 L2139.1 97.5 L2140.3 97.6 L2141.6 97.7 L2142.8 97.7 L2144.1 97.8 L2145.4 97.9 L2146.8 98 L2148.1 98 L2149.5 98.1 L2151 98.2 L2152.4 98.3 L2153.9 98.4 L2155.4 98.4 L2156.9 98.5 L2158.5 98.6 L2160.1 98.7 L2161.7 98.8 L2163.3 98.8 L2165 98.9 L2166.6 99 L2168.3 99.1 L2170.1 99.1 L2171.8 99.2 L2173.6 99.3 L2175.4 99.4 L2177.2 99.4 L2179 99.5 L2180.9 99.6 L2182.7 99.6 L2184.6 99.7 L2186.5 99.8 L2188.5 99.9 L2190.4 99.9 L2192.4 100 L2194.4 100 L2196.4 100.1 L2198.4 100.2 L2200.5 100.2 L2202.5 100.3 L2204.6 100.4 L2206.7 100.4 L2208.9 100.5 L2211 100.5 L2213.2 100.6 L2215.3 100.6 L2217.5 100.7 L2219.7 100.7 L2222 100.8 L2224.2 100.8 L2226.5 100.9 L2228.8 100.9 L2231.1 101 L2233.4 101 L2235.7 101.1 L2238.1 101.1 L2240.4 101.2 L2242.8 101.2 L2245.2 101.2 L2247.6 101.3 L2250 101.3 L2252.5 101.4 L2254.9 101.4 L2257.4 101.4 L2259.9 101.5 L2262.4 101.5 L2264.9 101.5 L2267.5 101.6 L2270 101.6 L2272.6 101.6 L2275.2 101.7 L2277.8 101.7 L2280.4 101.7 L2283 101.7"/>
<path stroke="#d11ed3" d="M2125 594 L2125.2 593.2 L2125.5 591.7 L2126 589.7 L2126.5 587.3 L2127.1 584.7 L2127.7 581.8 L2128.4 578.7 L2129.2 575.4 L2130 571.8 L2130.9 568.1 L2131.8 564.3 L2132.7 560.3 L2133.7 556.1 L2134.7 551.9 L2135.8 547.5 L2136.8 543 L2138 538.5 L2139.1 533.8 L2140.3 529.1 L2141.6 524.2 L2142.8 519.4 L2144.1 514.4 L2145.4 509.4 L2146.8 504.4 L2148.1 499.3 L2149.5 494.2 L2151 489 L2152.4 483.8 L2153.9 478.6 L2155.4 473.4 L2156.9 468.2 L2158.5 462.9 L2160.1 457.6 L2161.7 452.4 L2163.3 447.1 L2165 441.9 L2166.6 436.6 L2168.3 431.4 L2170.1 426.1 L2171.8 420.9 L2173.6 415.7 L2175.4 410.5 L2177.2 405.4 L2179 400.3 L2180.9 395.2 L2182.7 390.1 L2184.6 385.1 L2186.5 380.1 L2188.5 375.1 L2190.4 370.2 L2192.4 365.3 L2194.4 360.4 L2196.4 355.6 L2198.4 350.8 L2200.5 346.1 L2202.5 341.4 L2204.6 336.8 L2206.7 332.2 L2208.9 327.7 L2211 323.2 L2213.2 318.7 L2215.3 314.4 L2217.5 310 L2219.7 305.7 L2222 301.5 L2224.2 297.3 L2226.5 293.2 L2228.8 289.2 L2231.1 285.1 L2233.4 281.2 L2235.7 277.3 L2238.1 273.4 L2240.4 269.6 L2242.8 265.9 L2245.2 262.2 L2247.6 258.6 L2250 255 L2252.5 251.5 L2254.9 248 L2257.4 244.6 L2259.9 241.3 L2262.4 238 L2264.9 234.8 L2267.5 231.6 L2270 228.4 L2272.6 225.4 L2275.2 222.3 L2277.8 219.4 L2280.4 216.5 L2283 213.6"/>
</g>
<g stroke="#777" stroke-width="3" fill="none">
<line x1="1318" y1="93.8" x2="1318" y2="903.9"/>
<line x1="1305.5" y1="902.3" x2="2289.6" y2="902.3"/>
<line x1="1305.5" y1="902.3" x2="1318" y2="902.3"/>
<line x1="1311.5" y1="821.6" x2="1318" y2="821.6"/>
<line x1="1305.5" y1="740.9" x2="1318" y2="740.9"/>
<line x1="1311.5" y1="660.2" x2="1318" y2="660.2"/>
<line x1="1305.5" y1="579.5" x2="1318" y2="579.5"/>
<line x1="1311.5" y1="498.8" x2="1318" y2="498.8"/>
<line x1="1305.5" y1="418.1" x2="1318" y2="418.1"/>
<line x1="1311.5" y1="337.4" x2="1318" y2="337.4"/>
<line x1="1305.5" y1="256.7" x2="1318" y2="256.7"/>
<line x1="1311.5" y1="176" x2="1318" y2="176"/>
<line x1="1305.5" y1="95.3" x2="1318" y2="95.3"/>
<line x1="1318" y1="902.3" x2="1318" y2="913.8"/>
<line x1="1398.8" y1="902.3" x2="1398.8" y2="909.8"/>
<line x1="1479.7" y1="902.3" x2="1479.7" y2="913.8"/>
<line x1="1560.5" y1="902.3" x2="1560.5" y2="909.8"/>
<line x1="1641.4" y1="902.3" x2="1641.4" y2="913.8"/>
<line x1="1722.2" y1="902.3" x2="1722.2" y2="909.8"/>
<line x1="1803.1" y1="902.3" x2="1803.1" y2="913.8"/>
<line x1="1884" y1="902.3" x2="1884" y2="909.8"/>
<line x1="1964.8" y1="902.3" x2="1964.8" y2="913.8"/>
<line x1="2045.7" y1="902.3" x2="2045.7" y2="909.8"/>
<line x1="2126.5" y1="902.3" x2="2126.5" y2="913.8"/>
<line x1="2207.3" y1="902.3" x2="2207.3" y2="909.8"/>
<line x1="2288.2" y1="902.3" x2="2288.2" y2="913.8"/>
</g>
<g fill="#303030" font-size="41" text-anchor="end">
<text x="1297" y="912.8">0.0</text>
<text x="1297" y="751.4">0.2</text>
<text x="1297" y="590">0.4</text>
<text x="1297" y="428.6">0.6</text>
<text x="1297" y="267.2">0.8</text>
<text x="1297" y="105.8">1.0</text>
</g>
<g fill="#303030" font-size="41.5" text-anchor="middle">
<text x="1316.2" y="955.2">0</text>
<text x="1477.9" y="955.2">200</text>
<text x="1639.6" y="955.2">400</text>
<text x="1801.3" y="955.2">600</text>
<text x="1963" y="955.2">800</text>
<text x="2124.7" y="955.2">1000</text>
<text x="2286.4" y="955.2">1200</text>
</g>
<text x="1801" y="1042.5" font-size="57.5" font-weight="bold" text-anchor="middle" fill="#000">t (s)</text>
<text transform="translate(1143.6 560) rotate(-90)" font-size="69" font-weight="bold" fill="#000">n<tspan font-size="43" dy="20">HS</tspan></text>
<g fill="#000" font-size="59" font-weight="bold">
<text x="1343.8" y="715.8">65&#160;K</text>
<text x="1515.9" y="516.6">60&#160;K</text>
<text x="1678" y="292.6">55&#160;K</text>
<text x="1832.5" y="151.9">50&#160;K</text>
<text x="1985.5" y="76.9">45&#160;K</text>
<text x="2157.4" y="58.1">40&#160;K</text>
</g>
</svg></div></body></html>
